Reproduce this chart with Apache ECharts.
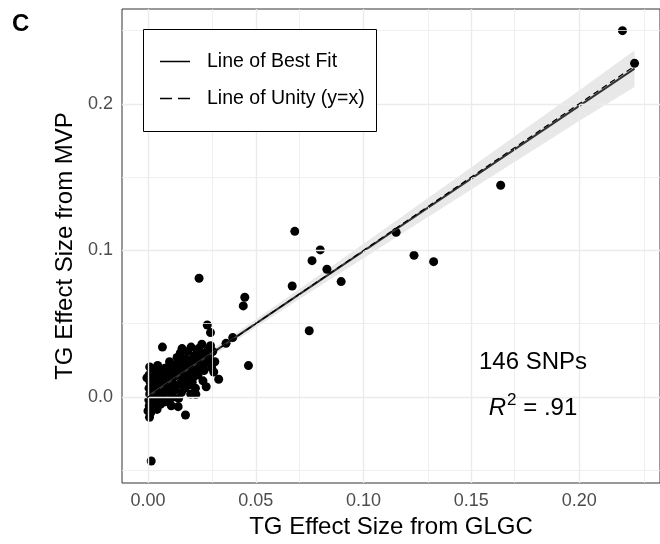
<!DOCTYPE html>
<html>
<head>
<meta charset="utf-8">
<script src="https://cdn.jsdelivr.net/npm/echarts@6/dist/echarts.min.js"></script>
<style>html,body{margin:0;padding:0;background:#fff}#c{width:660px;height:544px}</style>
</head>
<body>
<div id="c"></div>
<script>
// ---- data (TG effect sizes, 146 SNPs) ----
const glgc = [
  0.2201,0.2257,0.1636,0.1151,0.1234,0.1325,
  0.0681,0.0799,0.0761,0.0830,0.0669,0.0896,
  0.0748,0.0237,0.0449,0.0442,0.0275,0.0290,
  0.0393,0.0362,0.0015,0.0466,0.0328,0.0174,
  0.0140,0.0007,0.0067,0.0222,
  0.0008,0.0015,0.0005,0.0020,0.0010,0.0025,0.0005,0.0018,0.0008,0.0022,0.0004,0.0016,0.0006,0.0020,0.0000,0.0012,0.0028,-0.0005,0.0030,0.0026,
  0.0045,0.0060,0.0040,0.0070,0.0050,0.0075,0.0035,0.0065,0.0048,0.0058,0.0042,0.0078,0.0055,0.0068,
  0.0100,0.0090,0.0120,0.0085,0.0110,0.0095,0.0125,0.0088,0.0115,0.0098,0.0108,0.0128,0.0082,0.0118,0.0092,
  0.0150,0.0135,0.0165,0.0145,0.0175,0.0138,0.0160,0.0148,0.0170,0.0155,0.0142,0.0172,0.0133,0.0162,0.0158,
  0.0200,0.0185,0.0215,0.0195,0.0225,0.0190,0.0210,0.0182,0.0205,0.0220,0.0198,0.0228,0.0188,0.0212,
  0.0250,0.0235,0.0265,0.0245,0.0275,0.0240,0.0260,0.0232,0.0255,0.0270,0.0278,0.0248,
  0.0290,0.0300,0.0285,0.0310,0.0295,0.0305,
  0.0030,0.0052,0.0078,0.0102,0.0122,0.0140,0.0168,0.0180,0.0200,0.0218,0.0238,0.0258,0.0032,0.0062,0.0090,0.0130,0.0152,0.0185,0.0208,0.0228,0.0038,0.0075
];
const mvp = [
  0.2499,0.2276,0.1444,0.1123,0.0966,0.0923,
  0.1130,0.1003,0.0930,0.0871,0.0757,0.0787,
  0.0452,0.0810,0.0680,0.0621,0.0491,0.0439,
  0.0405,0.0366,-0.0437,0.0214,0.0121,-0.0123,
  -0.0066,-0.0139,0.0340,0.0018,
  0.0205,0.0185,0.0150,0.0125,0.0100,0.0080,0.0060,0.0040,0.0020,0.0000,-0.0020,-0.0040,-0.0060,-0.0080,-0.0095,-0.0110,0.0190,0.0130,0.0050,-0.0030,
  0.0215,0.0170,0.0140,0.0110,0.0090,0.0060,0.0030,0.0010,-0.0020,-0.0050,-0.0085,0.0195,0.0120,0.0040,
  0.0240,0.0200,0.0170,0.0140,0.0120,0.0090,0.0060,0.0030,0.0000,-0.0030,-0.0060,0.0220,0.0100,0.0040,0.0155,
  0.0300,0.0270,0.0240,0.0210,0.0180,0.0150,0.0120,0.0090,0.0060,0.0030,-0.0010,0.0260,0.0190,0.0110,0.0330,
  0.0340,0.0310,0.0280,0.0250,0.0220,0.0190,0.0160,0.0130,0.0100,0.0060,0.0020,0.0300,0.0240,0.0170,
  0.0360,0.0330,0.0300,0.0270,0.0240,0.0210,0.0180,0.0150,0.0110,0.0070,0.0320,0.0250,
  0.0350,0.0310,0.0280,0.0240,0.0200,0.0170,
  0.0160,0.0180,0.0130,0.0185,0.0140,0.0230,0.0200,0.0160,0.0210,0.0250,0.0280,0.0220,0.0090,0.0075,0.0060,0.0080,0.0165,0.0080,0.0130,0.0190,-0.0055,-0.0035
];
// line of best fit and its confidence band
const fitX = [-0.0005, 0.2257];
const fitY = [0.0001, 0.2240];
const unityX = [-0.0005, 0.2257];
const unityY = [-0.0005, 0.2257];
const bandX    = [-0.0005, 0.025, 0.05, 0.075, 0.1, 0.125, 0.15, 0.175, 0.2, 0.2257];
const bandLow  = [-0.0027, 0.0230, 0.0473, 0.0712, 0.0947, 0.1182, 0.1415, 0.1649, 0.1882, 0.2115];
const bandHigh = [0.0029, 0.0278, 0.0529, 0.0786, 0.1045, 0.1306, 0.1567, 0.1829, 0.2090, 0.2365];
// ticks
const xTicks = [0, 0.05, 0.1, 0.15, 0.2];
const xMinor = [0.025, 0.075, 0.125, 0.175, 0.225];
const yTicks = [0, 0.1, 0.2];
const yMinor = [-0.05, 0.05, 0.15, 0.25];

const FONT = '"Liberation Sans", Arial, sans-serif';
const chart = echarts.init(document.getElementById('c'), null, {renderer: 'canvas'});

const points = glgc.map((x, i) => [x, mvp[i]]);
const gridLines = [].concat(
  xTicks.map(v => ({xAxis: v, lineStyle: {width: 1.4}})),
  xMinor.map(v => ({xAxis: v, lineStyle: {width: 0.8}})),
  yTicks.map(v => ({yAxis: v, lineStyle: {width: 1.4}})),
  yMinor.map(v => ({yAxis: v, lineStyle: {width: 0.8}}))
);

chart.setOption({
  animation: false,
  backgroundColor: '#fff',
  grid: {left: 122, top: 9, width: 549, height: 474, show: true, borderColor: '#333', borderWidth: 1, backgroundColor: 'transparent'},
  xAxis: {
    type: 'value', min: -0.01205, max: 0.2375,
    name: 'TG Effect Size from GLGC', nameLocation: 'middle', nameGap: 30,
    nameTextStyle: {fontFamily: FONT, fontSize: 24, color: '#000'},
    axisLine: {show: false},
    axisTick: {show: true, length: 5, lineStyle: {color: '#333', width: 1}, customValues: xTicks},
    axisLabel: {customValues: xTicks, margin: 9, fontFamily: FONT, fontSize: 18, color: '#4d4d4d', formatter: v => v.toFixed(2)},
    splitLine: {show: false}
  },
  yAxis: {
    type: 'value', min: -0.0587, max: 0.26467,
    name: 'TG Effect Size from MVP', nameLocation: 'middle', nameGap: 42,
    nameTextStyle: {fontFamily: FONT, fontSize: 24, color: '#000'},
    axisLine: {show: false},
    axisTick: {show: true, length: 5, lineStyle: {color: '#333', width: 1}, customValues: yTicks},
    axisLabel: {customValues: yTicks, margin: 9, fontFamily: FONT, fontSize: 18, color: '#4d4d4d', formatter: v => v.toFixed(1)},
    splitLine: {show: false}
  },
  series: [
    {
      type: 'line', data: [], z: 0, silent: true,
      markLine: {silent: true, symbol: 'none', label: {show: false}, animation: false,
        lineStyle: {color: '#ebebeb', type: 'solid'}, data: gridLines}
    },
    {
      type: 'custom', z: 1, silent: true, data: [0],
      renderItem: (params, api) => {
        const pts = [];
        for (let i = 0; i < bandX.length; i++) pts.push(api.coord([bandX[i], bandHigh[i]]));
        for (let i = bandX.length - 1; i >= 0; i--) pts.push(api.coord([bandX[i], bandLow[i]]));
        return {type: 'polygon', shape: {points: pts}, style: {fill: 'rgba(0,0,0,0.09)'}};
      }
    },
    {
      type: 'scatter', z: 3, data: points, symbolSize: 9,
      itemStyle: {color: '#000', opacity: 1}
    },
    {
      name: 'Line of Best Fit', type: 'line', z: 4, symbol: 'none',
      data: fitX.map((x, i) => [x, fitY[i]]),
      lineStyle: {color: '#333', width: 2}
    },
    {
      name: 'Line of Unity (y=x)', type: 'line', z: 5, symbol: 'none',
      data: unityX.map((x, i) => [x, unityY[i]]),
      lineStyle: {color: '#000', width: 1.3, type: [6, 4]}
    }
  ],
  graphic: [
    {type: 'text', left: 12, top: 12, style: {text: 'C', font: 'bold 24px ' + FONT, fill: '#000'}},
    {type: 'rect', z: 10, shape: {x: 143.5, y: 29.5, width: 233, height: 102}, style: {fill: '#fff', stroke: '#000', lineWidth: 1}},
    {type: 'line', z: 11, shape: {x1: 160, y1: 61.5, x2: 190, y2: 61.5}, style: {stroke: '#000', lineWidth: 1.5}},
    {type: 'line', z: 11, shape: {x1: 160, y1: 98.5, x2: 190, y2: 98.5}, style: {stroke: '#000', lineWidth: 1.5, lineDash: [12, 6]}},
    {type: 'text', z: 11, x: 207, y: 62, style: {text: 'Line of Best Fit', font: '19.5px ' + FONT, fill: '#000', verticalAlign: 'middle'}},
    {type: 'text', z: 11, x: 207, y: 99, style: {text: 'Line of Unity (y=x)', font: '19.5px ' + FONT, fill: '#000', verticalAlign: 'middle'}},
    {type: 'text', z: 11, x: 533, y: 362, style: {text: '146 SNPs', font: '24px ' + FONT, fill: '#000', align: 'center', verticalAlign: 'middle'}},
    {type: 'text', z: 11, x: 533, y: 406, style: {
      text: '{i|R}{s|2}{n| = .91}', align: 'center', verticalAlign: 'middle',
      rich: {
        i: {font: 'italic 24px ' + FONT, fill: '#000', verticalAlign: 'bottom', lineHeight: 28},
        s: {font: '17px ' + FONT, fill: '#000', verticalAlign: 'top', lineHeight: 28, padding: [0, 0, 0, 1]},
        n: {font: '24px ' + FONT, fill: '#000', verticalAlign: 'bottom', lineHeight: 28}
      }}}
  ]
});
</script>
</body>
</html>
